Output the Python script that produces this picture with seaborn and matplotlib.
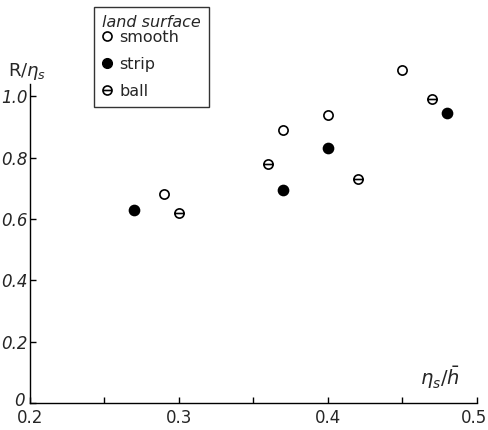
import numpy as np
import pandas as pd
import matplotlib
matplotlib.use("Agg")
import matplotlib.pyplot as plt
import matplotlib.transforms as mtransforms
from matplotlib.path import Path
from matplotlib.lines import Line2D
import seaborn as sns

# Relative runup R/eta_s against eta_s/h-bar for three land surfaces
smooth_x = [0.29, 0.37, 0.40, 0.45]
smooth_y = [0.68, 0.89, 0.94, 1.085]
strip_x = [0.27, 0.37, 0.40, 0.48]
strip_y = [0.63, 0.695, 0.83, 0.945]
ball_x = [0.30, 0.36, 0.42, 0.47]
ball_y = [0.62, 0.78, 0.73, 0.99]

x_ticks = [0.2, 0.3, 0.4, 0.5]
x_tick_labels = ["0.2", "0.3", "0.4", "0.5"]
x_minor = [0.25, 0.35, 0.45]
y_ticks = [0.0, 0.2, 0.4, 0.6, 0.8, 1.0]
y_tick_labels = ["0", "0.2", "0.4", "0.6", "0.8", "1.0"]

sns.set_style("ticks")
plt.rcParams["font.family"] = ["DejaVu Sans"]

df = pd.concat([
    pd.DataFrame({"x": smooth_x, "y": smooth_y, "surface": "smooth"}),
    pd.DataFrame({"x": strip_x, "y": strip_y, "surface": "strip"}),
    pd.DataFrame({"x": ball_x, "y": ball_y, "surface": "ball"}),
], ignore_index=True)

# circle with a horizontal bar through it
ball_marker = Path.make_compound_path(
    Path.unit_circle(),
    Path([(-1.0, 0.0), (1.0, 0.0)], [Path.MOVETO, Path.LINETO]),
)

fig = plt.figure(figsize=(4.88, 4.30), dpi=100)
ax = fig.add_axes([30 / 488, 27 / 430, 447 / 488, 319 / 430])

sz = 44
lw = 1.2
sns.scatterplot(data=df[df.surface == "smooth"], x="x", y="y", ax=ax,
                marker="o", s=sz, facecolor="white", edgecolor="black",
                linewidth=lw, clip_on=False, zorder=3, legend=False)
sns.scatterplot(data=df[df.surface == "strip"], x="x", y="y", ax=ax,
                marker="o", s=sz + 8, facecolor="black", edgecolor="black",
                linewidth=lw, clip_on=False, zorder=3, legend=False)
sns.scatterplot(data=df[df.surface == "ball"], x="x", y="y", ax=ax,
                marker=ball_marker, s=sz, facecolor="white", edgecolor="black",
                linewidth=lw, clip_on=False, zorder=3, legend=False)

ax.set_xlim(0.2, 0.5)
ax.set_ylim(0.0, 1.04)
sns.despine(ax=ax, top=True, right=True)
for side in ("left", "bottom"):
    ax.spines[side].set_linewidth(1.0)
    ax.spines[side].set_color("black")

ax.set_xticks(x_ticks)
ax.set_xticklabels(x_tick_labels)
ax.set_xticks(x_minor, minor=True)
ax.set_yticks(y_ticks)
ax.set_yticklabels(y_tick_labels, style="oblique")
ax.tick_params(axis="x", which="both", direction="in", length=4, width=1,
               labelsize=12, pad=4, color="black")
ax.tick_params(axis="y", which="both", direction="in", length=4, width=1,
               labelsize=12, pad=2, color="black")
ax.set_xlabel("")
ax.set_ylabel("")


def nudge(label, dx_px, dy_px):
    label.set_transform(label.get_transform() +
                        mtransforms.ScaledTranslation(dx_px / 100, dy_px / 100,
                                                      fig.dpi_scale_trans))


# lift the origin label so it clears the 0.2 below it
nudge(ax.get_yticklabels()[0], -2, 4)
# keep the last x label inside the canvas
nudge(ax.get_xticklabels()[-1], -3, 0)

fig.text(8 / 488, 1 - 72 / 430, r"R/$\eta_{s}$", fontsize=13,
         ha="left", va="center")
fig.text(420 / 488, 1 - 378 / 430, r"$\eta_{s}/\bar{h}$", fontsize=14,
         ha="left", va="center")

handles = [
    Line2D([], [], linestyle="none", marker="o", markersize=6.5,
           markerfacecolor="white", markeredgecolor="black", markeredgewidth=lw),
    Line2D([], [], linestyle="none", marker="o", markersize=7,
           markerfacecolor="black", markeredgecolor="black"),
    Line2D([], [], linestyle="none", marker=ball_marker, markersize=6.5,
           markerfacecolor="white", markeredgecolor="black", markeredgewidth=lw),
]
leg = fig.legend(handles, ["smooth", "strip", "ball"], title="land surface",
                 loc="upper left", bbox_to_anchor=(94 / 488, 1 - 7 / 430),
                 frameon=True, fancybox=False, edgecolor="black",
                 fontsize=11.5, title_fontsize=11.5, handlelength=0.6,
                 handletextpad=0.5, labelspacing=0.74, borderpad=0.5,
                 borderaxespad=0, alignment="left")
leg._legend_box.sep = 0
leg.get_frame().set_linewidth(1.0)
leg.get_title().set_style("italic")

fig.savefig("out.png", dpi=100, facecolor="white")
